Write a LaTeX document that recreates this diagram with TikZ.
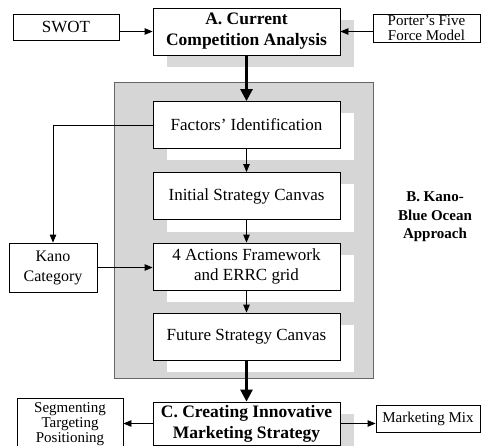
\documentclass[tikz,border=0pt]{standalone}
\usepackage{fontspec}
\setmainfont{Liberation Serif}
\usetikzlibrary{arrows.meta, shadows}
\definecolor{panelgray}{gray}{0.84}
\definecolor{shadowgray}{gray}{0.85}
\definecolor{panelline}{gray}{0.4}

\tikzset{
  stepbox/.style={draw=black, line width=0.8pt, fill=white, minimum width=187pt,
    minimum height=47pt, align=center, inner sep=1pt, font=\fontsize{17}{20}\selectfont},
  headbox/.style={stepbox, font=\bfseries\fontsize{17.5}{21}\selectfont},
  sidebox/.style={draw=black, line width=0.8pt, fill=white, align=center, inner sep=1pt,
    font=\fontsize{15}{15}\selectfont},
  greyshadow/.style={drop shadow={shadow xshift=14pt, shadow yshift=-12pt, fill=shadowgray, opacity=1}},
  whiteshadow/.style={drop shadow={shadow xshift=14pt, shadow yshift=-12pt, fill=white, opacity=1}},
  flowarrow/.style={-{Triangle[length=8pt,width=6.5pt]}, line width=0.8pt},
  bigarrow/.style={-{Triangle[length=12pt,width=12pt]}, line width=2.6pt},
}

\begin{document}
\begin{tikzpicture}[x=1pt, y=-1pt]
  \clip (0,0) rectangle (481,446);
  \fill[white] (0,0) rectangle (481,446);

  % --- B: grey panel ---
  \filldraw[fill=panelgray, draw=panelline, line width=1pt] (114,83) rectangle (373,378);

  % --- A: current competition ---
  \node[headbox, greyshadow] (curr) at (246.5,31.5) {A. Current\\Competition Analysis};
  \node[sidebox, minimum width=106pt, minimum height=26pt, font=\fontsize{17}{20}\selectfont] (swot) at (66,27) {SWOT};
  \node[sidebox, minimum width=107pt, minimum height=28pt] (porter) at (426.5,28) {Porter’s Five\\Force Model};

  % --- B: Kano-Blue Ocean steps ---
  \node[stepbox, whiteshadow] (fact) at (246.5,125) {Factors’ Identification};
  \node[stepbox, whiteshadow] (init) at (246.5,196) {Initial Strategy Canvas};
  \node[stepbox, whiteshadow] (act)  at (246.5,266.5) {4 Actions Framework\\and ERRC grid};
  \node[stepbox, whiteshadow] (fut)  at (246.5,336.5) {Future Strategy Canvas};
  \node[sidebox, minimum width=88pt, minimum height=49pt, font=\fontsize{16}{20}\selectfont] (kano) at (53,267.5) {Kano\\Category};
  \node[align=center, font=\bfseries\fontsize{15}{18.5}\selectfont] (blabel) at (435,217) {B. Kano-\\Blue Ocean\\Approach};

  % --- C: marketing strategy ---
  \node[headbox, greyshadow, minimum height=43pt] (crea) at (246.5,423.5) {C. Creating Innovative\\Marketing Strategy};
  \node[sidebox, minimum width=106pt, minimum height=52pt] (stp) at (70,424) {Segmenting\\Targeting\\Positioning};
  \node[sidebox, minimum width=104pt, minimum height=27pt] (mix) at (428,418.5) {Marketing Mix};

  % --- connectors ---
  \draw[flowarrow] (swot.east |- curr.west) -- (curr.west);
  \draw[flowarrow] (porter.west |- curr.east) -- (curr.east);
  \draw[bigarrow] (curr.south) -- (fact.north);
  \draw[flowarrow] (fact.south) -- (init.north);
  \draw[flowarrow] (init.south) -- (act.north);
  \draw[flowarrow] (act.south) -- (fut.north);
  \draw[flowarrow] (fact.west) -| (kano.north);
  \draw[flowarrow] (kano.east) -- (kano.east -| act.west);
  \draw[bigarrow] (fut.south) -- (crea.north);
  \draw[flowarrow] (crea.west) -- (crea.west -| stp.east);
  \draw[flowarrow] (crea.east) -- (crea.east -| mix.west);
\end{tikzpicture}
\end{document}
